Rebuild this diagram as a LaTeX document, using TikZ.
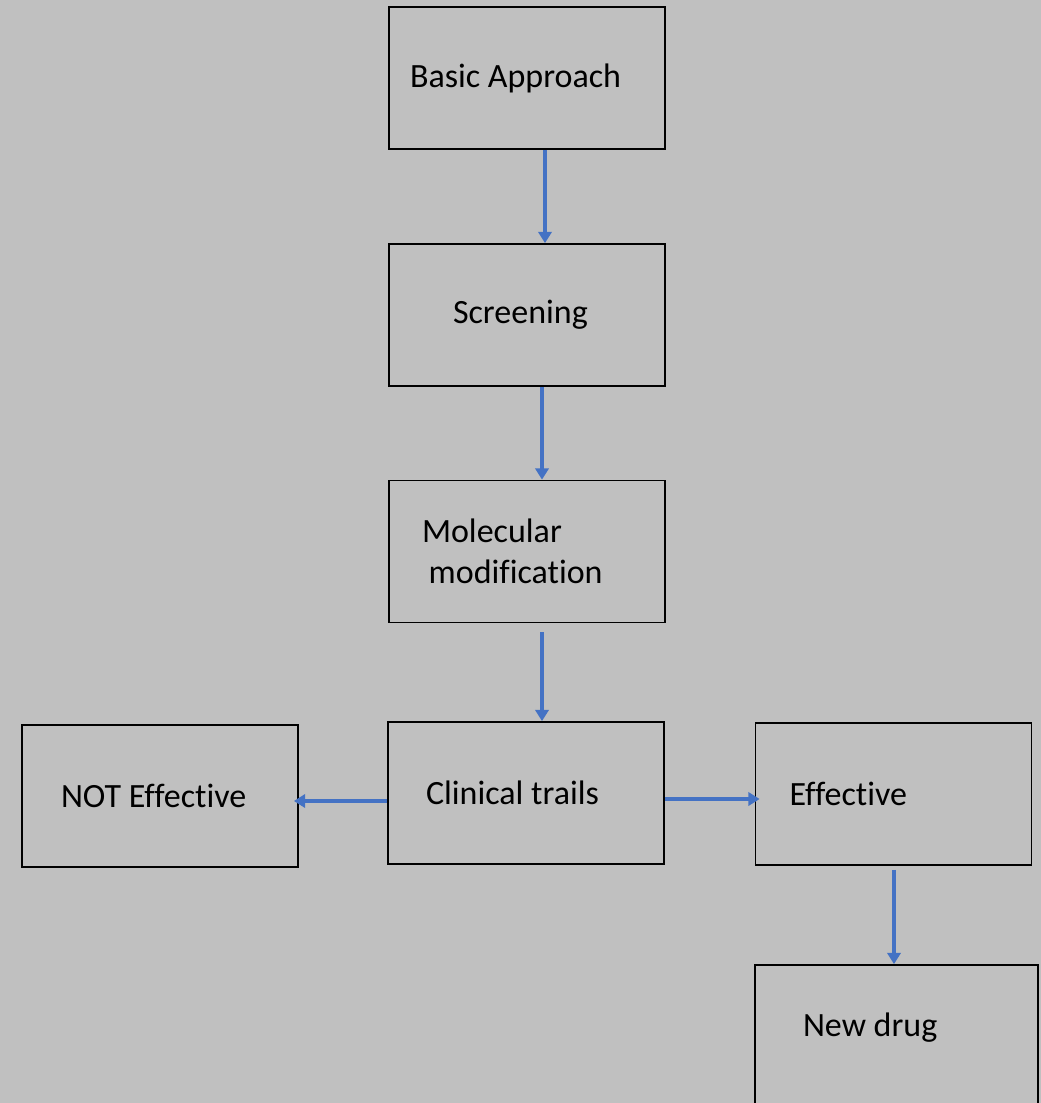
\documentclass[tikz,border=0pt]{standalone}
\usepackage{fontspec}
\setmainfont{Carlito}[Ligatures=NoCommon]
\usetikzlibrary{arrows.meta, calc}
\definecolor{bggray}{RGB}{192,192,192}
\definecolor{flowblue}{RGB}{68,114,196}

\begin{document}
\begin{tikzpicture}[x=0.75pt, y=-0.75pt,
  stage/.style={draw=black, line width=1.3pt, fill=bggray, minimum width=207pt, minimum height=106.5pt, align=flush left, font=\fontsize{25.5pt}{31pt}\selectfont},
  flow/.style={-{Triangle[width=10pt,length=8.5pt]}, line width=2.6pt, flowblue}]
  % Canvas
  \fill[bggray] (0,0) rectangle (1041,1103);
  \clip (0,0) rectangle (1041,1103);

  % Main column
  \node[stage, inner xsep=15.75pt, text width=175.5pt] (basic) at (527, 78) {Basic Approach};
  \node[stage, inner xsep=48pt, text width=111pt] (screen) at (527, 315) {Screening};
  \node[stage, inner xsep=24.75pt, text width=157.5pt] (molec) at (527, 551.5) {Molecular\\\hspace*{5pt}modification};
  \node[stage, inner xsep=28.5pt, text width=150pt] (clinical) at (526, 793) {Clinical trails};

  % Outcomes
  \node[stage, inner xsep=29.25pt, text width=148.5pt] (noteff) at (160, 796) {NOT Effective};
  \node[stage, inner xsep=25.5pt, text width=156pt] (eff) at (893.5, 794) {Effective};
  \node[stage, minimum width=212.25pt, inner xsep=36pt, text width=140.25pt, text depth=17pt] (newdrug) at (896.5, 1036) {New drug};

  % Arrows
  \draw[flow] ($(basic.south)+(18,0)$) -- ($(screen.north)+(18,0)$);
  \draw[flow] ($(screen.south)+(15,0)$) -- ($(molec.north)+(15,0)$);
  \draw[flow] ($(molec.south)+(15,9)$) -- ($(clinical.north)+(16,0)$);
  \draw[flow] ($(clinical.west)+(0,8)$) -- ($(noteff.east)+(-5,5)$);
  \draw[flow] ($(clinical.east)+(0,6)$) -- ($(eff.west)+(5,5)$);
  \draw[flow] ($(eff.south)+(0.5,4)$) -- ($(newdrug.north)+(-2.5,0)$);
\end{tikzpicture}
\end{document}
